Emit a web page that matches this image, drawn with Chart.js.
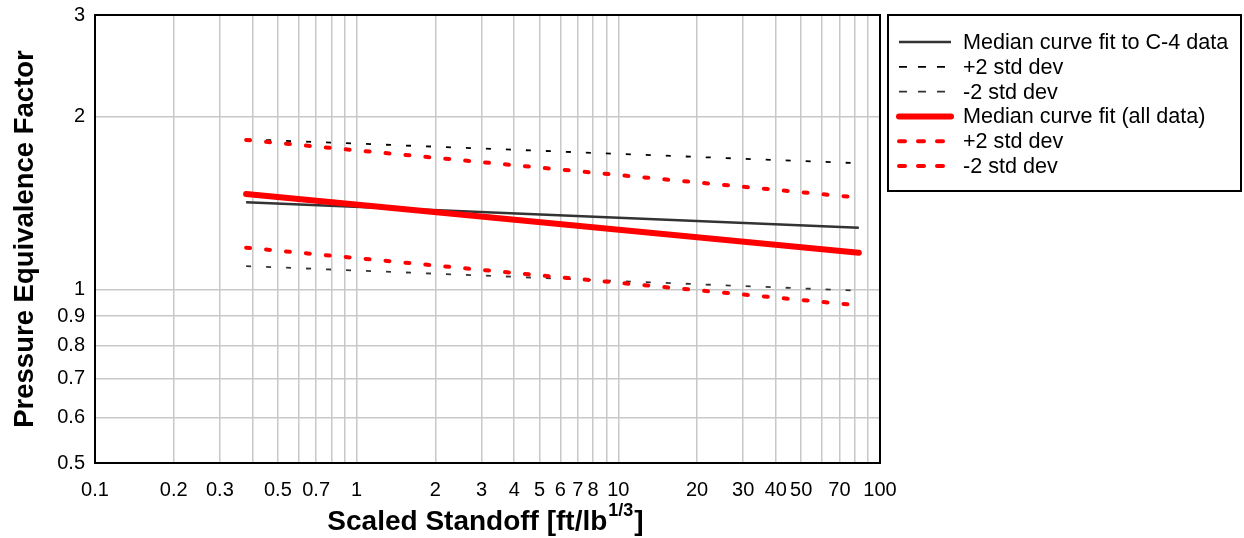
<!DOCTYPE html>
<html>
<head>
<meta charset="utf-8">
<script src="https://cdn.jsdelivr.net/npm/chart.js@4/dist/chart.umd.min.js"></script>
<style>
  html, body { margin: 0; padding: 0; background: #fff; }
  #wrap { width: 1244px; height: 538px; }
</style>
</head>
<body>
<div id="wrap"><canvas id="myChart" width="1244" height="538"></canvas></div>
<script>
// values (log-log, straight fits)
const standoff = [0.378, 83];
const c4Median = [1.418, 1.281];
const c4Plus2 = [1.825, 1.658];
const c4Minus2 = [1.099, 0.996];
const allMedian = [1.466, 1.159];
const allPlus2 = [1.82, 1.445];
const allMinus2 = [1.183, 0.939];

const seriesLabels = ['Median curve fit to C-4 data', '+2 std dev', '-2 std dev',
                      'Median curve fit (all data)', '+2 std dev', '-2 std dev'];

const xGrid = [0.1,0.2,0.3,0.4,0.5,0.6,0.7,0.8,0.9,1,2,3,4,5,6,7,8,9,10,20,30,40,50,60,70,80,90,100];
const xLabels = [0.1,0.2,0.3,0.5,0.7,1,2,3,4,5,6,7,8,10,20,30,40,50,70,100];
const yGrid = [0.5,0.6,0.7,0.8,0.9,1,2,3];

const FONT = "'Liberation Sans', Arial, sans-serif";

function pts(ys) {
    return standoff.map((x, i) => ({ x: x, y: ys[i] }));
}

const data = {
    datasets: [{
        label: seriesLabels[0],
        data: pts(c4Median),
        borderColor: '#333333',
        borderWidth: 2.5,
        order: 1
    },{
        label: seriesLabels[1],
        data: pts(c4Plus2),
        borderColor: '#000000',
        borderWidth: 1.8,
        borderDash: [5, 15],
        legendDash: [8, 11],
        order: 1
    },{
        label: seriesLabels[2],
        data: pts(c4Minus2),
        borderColor: '#333333',
        borderWidth: 1.8,
        borderDash: [5, 15],
        legendDash: [8, 11],
        order: 1
    },{
        label: seriesLabels[3],
        data: pts(allMedian),
        borderColor: '#ff0000',
        borderWidth: 6,
        borderCapStyle: 'round',
        order: 0
    },{
        label: seriesLabels[4],
        data: pts(allPlus2),
        borderColor: '#ff0000',
        borderWidth: 4,
        borderDash: [4, 16],
        borderCapStyle: 'round',
        legendDash: [6, 13],
        order: 0
    },{
        label: seriesLabels[5],
        data: pts(allMinus2),
        borderColor: '#ff0000',
        borderWidth: 4,
        borderDash: [4, 16],
        borderCapStyle: 'round',
        legendDash: [6, 13],
        order: 0
    }]
};

// frame + x title (with superscript) + boxed legend
const extras = {
    id: 'extras',
    afterDatasetsDraw(chart) {
        const ctx = chart.ctx;
        const a = chart.chartArea;
        ctx.save();
        ctx.strokeStyle = '#000';
        ctx.lineWidth = 2;
        ctx.strokeRect(a.left, a.top, a.right - a.left, a.bottom - a.top);

        // x title
        ctx.fillStyle = '#000';
        ctx.textBaseline = 'alphabetic';
        const main = 'Scaled Standoff [ft/lb';
        const sup = '1/3';
        const close = ']';
        ctx.font = 'bold 28px ' + FONT;
        const w1 = ctx.measureText(main).width;
        const w3 = ctx.measureText(close).width;
        ctx.font = 'bold 18px ' + FONT;
        const w2 = ctx.measureText(sup).width;
        let x = (a.left + a.right) / 2 - (w1 + w2 + w3) / 2 - 3;
        const base = 530;
        ctx.font = 'bold 28px ' + FONT;
        ctx.textAlign = 'left';
        ctx.fillText(main, x, base);
        ctx.font = 'bold 18px ' + FONT;
        ctx.fillText(sup, x + w1 + 1, base - 14);
        ctx.font = 'bold 28px ' + FONT;
        ctx.fillText(close, x + w1 + w2 + 2, base);

        // legend
        const lx = 888, ly = 15, lw = 353, lh = 176;
        ctx.lineWidth = 2;
        ctx.strokeStyle = '#000';
        ctx.strokeRect(lx, ly, lw, lh);
        ctx.font = '21.6px ' + FONT;
        ctx.textBaseline = 'middle';
        chart.data.datasets.forEach(function(ds, i) {
            const y = 42 + i * 24.8;
            ctx.beginPath();
            ctx.strokeStyle = ds.borderColor;
            ctx.lineWidth = ds.borderWidth;
            ctx.lineCap = ds.borderCapStyle || 'butt';
            ctx.setLineDash(ds.legendDash || []);
            ctx.moveTo(899, y);
            ctx.lineTo(951, y);
            ctx.stroke();
            ctx.setLineDash([]);
            ctx.fillStyle = '#000';
            ctx.fillText(ds.label, 963, y + 1);
        });
        ctx.restore();
    }
};

const config = {
    type: 'line',
    data: data,
    options: {
        responsive: false,
        animation: false,
        layout: { padding: { top: 15, right: 364, left: 0, bottom: 0 } },
        elements: { point: { radius: 0 }, line: { tension: 0 } },
        plugins: { legend: { display: false }, tooltip: { enabled: false } },
        scales: {
            x: {
                type: 'logarithmic',
                min: 0.1,
                max: 100,
                afterBuildTicks: function(scale) {
                    scale.ticks = xGrid.map(v => ({ value: v }));
                },
                afterFit: function(scale) {
                    scale.height = 75;
                    scale.paddingLeft = 0;
                    scale.paddingRight = 0;
                },
                grid: { color: '#c8c8c8', lineWidth: 1.5, drawTicks: false },
                border: { display: false },
                ticks: {
                    autoSkip: false,
                    maxRotation: 0,
                    padding: 15,
                    color: '#000',
                    font: { family: FONT, size: 20 },
                    callback: function(v) {
                        return xLabels.indexOf(v) >= 0 ? String(v) : '';
                    }
                }
            },
            y: {
                type: 'logarithmic',
                min: 0.5,
                max: 3,
                afterBuildTicks: function(scale) {
                    scale.ticks = yGrid.map(v => ({ value: v }));
                },
                afterFit: function(scale) {
                    scale.width = 95;
                    scale.paddingTop = 0;
                    scale.paddingBottom = 0;
                },
                grid: { color: '#c8c8c8', lineWidth: 1.5, drawTicks: false },
                border: { display: false },
                title: {
                    display: true,
                    text: 'Pressure Equivalence Factor',
                    color: '#000',
                    font: { family: FONT, size: 27.5, weight: 'bold' },
                    padding: { top: 9, bottom: 4 }
                },
                ticks: {
                    padding: 10,
                    color: '#000',
                    font: { family: FONT, size: 20 },
                    callback: function(v) { return String(v); }
                }
            }
        }
    },
    plugins: [extras]
};

const myChart = new Chart(document.getElementById('myChart'), config);
</script>
</body>
</html>
